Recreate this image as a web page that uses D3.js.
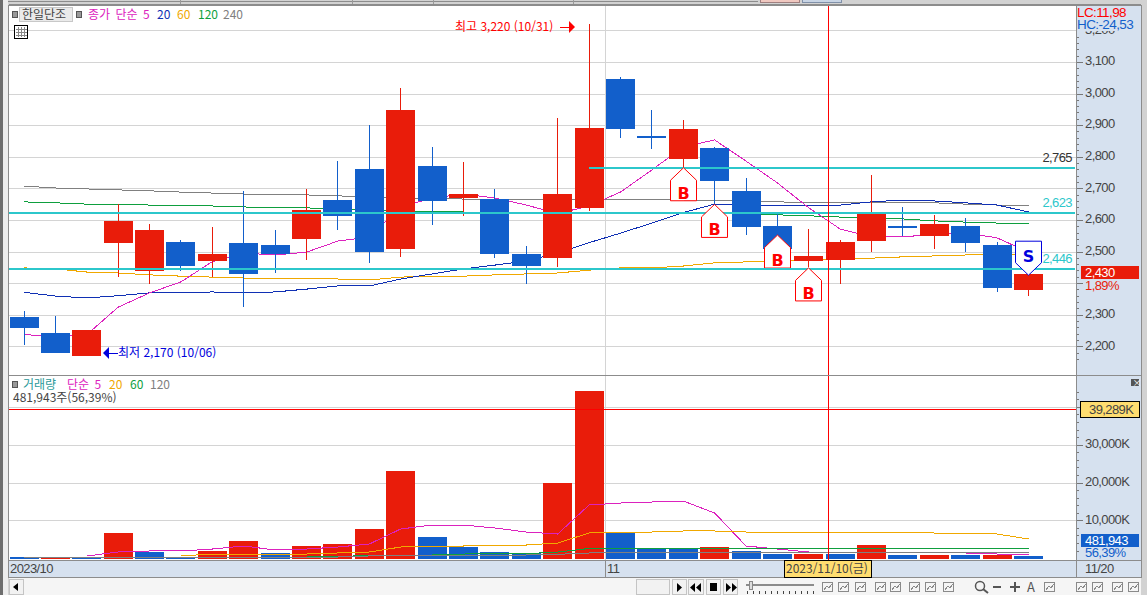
<!DOCTYPE html>
<html lang="ko"><head><meta charset="utf-8">
<script src="https://cdn.jsdelivr.net/npm/d3@7"></script>
<style>html,body{margin:0;padding:0;background:#fff;overflow:hidden}svg{display:block}
text{font-family:"Noto Sans CJK KR","Liberation Sans",sans-serif;font-size:12px}
.num{font-family:"Liberation Sans",sans-serif;letter-spacing:-.6px}</style>
</head><body><svg id="c" width="1147" height="595"></svg>
<script>
// ---------- data ----------
const title = "한일단조";
const openP  = [2293,2242,2170,2527,2438,2530,2470,2527,2521,2540,2663,2761,2508,2771,2669,2665,2492,2479,2638,3046,2865,2793,2828,2692,2581,2470,2473,2533,2581,2549,2581,2521,2378];
const closeP = [2258,2179,2252,2597,2568,2454,2492,2429,2492,2631,2612,2498,2948,2660,2682,2492,2454,2682,2891,2888,2860,2888,2723,2578,2508,2486,2530,2623,2576,2587,2527,2384,2430];
const highP  = [2312,2296,2252,2650,2587,2536,2578,2692,2568,2698,2786,2900,3017,2831,2783,2698,2517,2922,3220,3052,2948,2916,2831,2733,2625,2571,2536,2742,2641,2615,2606,2530,2430];
const lowP   = [2204,2179,2170,2419,2397,2438,2419,2324,2432,2473,2568,2464,2483,2584,2612,2479,2397,2451,2628,2859,2824,2764,2650,2553,2490,2451,2397,2498,2549,2508,2498,2372,2359];
const ma5  = [2237,2231,2237,2324,2369,2404,2468,2495,2489,2498,2533,2546,2641,2669,2682,2669,2647,2620,2644,2688,2758,2831,2853,2786,2717,2638,2571,2546,2546,2555,2559,2543,2498];
const ma20 = [2371,2359,2353,2360,2369,2369,2372,2369,2372,2381,2391,2391,2413,2429,2445,2457,2470,2495,2528,2558,2590,2623,2650,2647,2644,2647,2647,2657,2663,2660,2654,2647,2625];
const ma60 = [2448,2445,2435,2432,2426,2422,2419,2416,2413,2413,2413,2410,2419,2422,2422,2426,2429,2432,2441,2448,2448,2454,2464,2467,2470,2473,2476,2479,2483,2486,2489,2492,2492];
const ma120= [2657,2654,2650,2650,2647,2644,2644,2641,2638,2638,2635,2631,2628,2628,2625,2625,2625,2625,2625,2625,2625,2625,2622,2619,2616,2613,2609,2606,2603,2597,2593,2590,2587];
const ma240= [2707,2701,2698,2695,2692,2688,2685,2682,2679,2679,2676,2673,2669,2669,2666,2664,2664,2663,2663,2663,2663,2663,2661,2660,2657,2655,2654,2654,2654,2654,2650,2647,2647];
const volume = [290,290,290,6640,1600,290,1880,4520,1350,3200,3730,7700,23000,5580,2930,1610,1350,19870,44200,6640,2670,2670,2930,1880,1090,1090,1090,3460,820,820,820,820,482];
const volUp  = [0,1,0,1,0,0,1,1,0,1,1,1,1,0,0,0,0,1,1,0,0,0,1,0,0,1,0,1,0,1,0,1,0];
const vma5  = [null,null,555,1610,1880,1880,2400,3200,2140,2400,2930,3730,7700,8750,8750,7960,6900,6370,14040,14570,14840,15100,11930,3200,2400,1610,1480,1480,1480,1480,1350,1080,820];
const vma20 = [null,null,null,null,null,740,900,1000,1080,1080,1350,1610,2930,3200,3200,3460,3460,3990,6640,6900,6900,7170,7170,6900,6900,6900,6900,6900,6900,6640,6640,6370,5050];
const vma60 = [290,290,290,290,290,290,290,290,290,290,420,690,820,820,1080,1160,1160,1610,2540,2540,2540,2540,2540,2540,2540,2540,2540,2540,2540,2540,2540,2540,2540];
const vma120= [290,290,290,290,290,290,290,290,290,290,290,560,740,820,820,820,820,1000,1350,1480,1480,1480,1480,1480,1480,1480,1480,1480,1480,1480,1480,1480,1480];
const priceTicks = [2200,2300,2400,2500,2600,2700,2800,2900,3000,3100,3200];
const priceMinor = [2160,2180,2220,2240,2260,2280,2320,2340,2360,2380,2420,2440,2460,2480,2520,2540,2560,2580,2620,2640,2660,2680,2720,2740,2760,2780,2820,2840,2860,2880,2920,2940,2960,2980,3020,3040,3060,3080,3120,3140,3160,3180];
const volTicks = [10000,20000,30000,40000];
const volMinor = [2000,4000,6000,8000,12000,14000,16000,18000,22000,24000,26000,28000,32000,34000,36000,38000,42000,44000];
const levelPrices = [2765,2623,2446];
const levelLabels = ["2,765","2,623","2,446"];
const buyIdx = [21,22,24,25];
const buyPrice = [2765,2649,2552,2448];
const sellIdx = [32];
const sellPrice = [2425];
const crosshairVol = 39289;
const legendMain = ["종가 단순 5","20","60","120","240"];
const legendVol = ["거래량","단순 5","20","60","120"];
// ---------- colours ----------
const RED="#E91C0A",BLUE="#125FCB",TEAL="#2CC7CB",GRID="#D4D4D4",PANEL="#D6E1EF",INK="#444";
const C5="#DC22BE",C20="#1030B4",C60="#F0A800",C120="#0E9F3E",C240="#808080";

const svg=d3.select("#c");
const L=9,R=1076,T=5,PB=375,VB=558.1,VE=560;
const x=d3.scaleBand().domain(d3.range(openP.length)).range([8.324,1044.26]).paddingInner(0.07).paddingOuter(0.035);
const cx=i=>Math.floor(x(i)+x.bandwidth()/2);
const y=d3.scaleLinear().domain([2200,3200]).range([346.3,30.3]);
const yv=d3.scaleLinear().domain([0,40000]).range([VB,406.9]);

// frame
svg.append("rect").attr("width",1147).attr("height",595).attr("fill","#D2D2D2");
svg.append("rect").attr("x",0).attr("width",3).attr("height",595).attr("fill","#6E6E6E");
svg.append("rect").attr("x",3).attr("width",5).attr("height",595).attr("fill","#EDEDED");
svg.append("rect").attr("x",L).attr("y",T).attr("width",R-L).attr("height",VE-T).attr("fill","#fff");
svg.append("rect").attr("x",R).attr("y",T).attr("width",1141-R).attr("height",578-T).attr("fill",PANEL);
svg.append("rect").attr("x",L).attr("y",VE+1).attr("width",R-L).attr("height",17).attr("fill",PANEL);
const crisp=s=>s.attr("shape-rendering","crispEdges");
const hl=(x1,x2,yy,c,w=1)=>crisp(svg.append("line")).attr("x1",x1).attr("x2",x2).attr("y1",yy).attr("y2",yy).attr("stroke",c).attr("stroke-width",w);
const vl=(xx,y1,y2,c,w=1)=>crisp(svg.append("line")).attr("x1",xx).attr("x2",xx).attr("y1",y1).attr("y2",y2).attr("stroke",c).attr("stroke-width",w);
const txt=(s,xx,yy,c,o={})=>svg.append("text").attr("x",xx).attr("y",yy).attr("fill",c).attr("text-anchor",o.a||"start").attr("class",o.k||null).style("font-size",(o.s||12)+"px").style("word-spacing",(o.w||0)+"px").text(s);

// top strip
hl(8,758,1.5,"#8C8C8C");[180,352,433,573].forEach(v=>vl(v+.5,0,5,"#9A9A9A"));
crisp(svg.append("rect")).attr("x",760.5).attr("y",-1).attr("width",39).attr("height",3).attr("fill","#F0C8C0").attr("stroke","#A08080");
crisp(svg.append("rect")).attr("x",802.5).attr("y",-1).attr("width",39).attr("height",3).attr("fill","#C8D4E4").attr("stroke","#8090A8");

// grid
priceTicks.forEach(t=>hl(L,R,Math.round(y(t))+.5,GRID));
volTicks.forEach(t=>hl(L,R,Math.round(yv(t))+.5,GRID));
vl(605.5,T,578,GRID);

// price MA lines
const line=(sc)=>d3.line().defined(d=>d!=null).x((d,i)=>x(i)+x.bandwidth()/2).y(d=>sc(d));
const plotLine=(arr,sc,c)=>crisp(svg.append("path")).attr("d",line(sc)(arr)).attr("fill","none").attr("stroke",c).attr("stroke-width",1);
plotLine(ma240,y,C240);plotLine(ma120,y,C120);plotLine(ma60,y,C60);plotLine(ma20,y,C20);plotLine(ma5,y,C5);

// candles
const idx=d3.range(openP.length);
const col=i=>closeP[i]>=openP[i]?RED:BLUE;
crisp(svg.append("g").selectAll("line").data(idx).join("line"))
 .attr("x1",i=>cx(i)+.5).attr("x2",i=>cx(i)+.5).attr("y1",i=>y(highP[i])).attr("y2",i=>y(lowP[i])).attr("stroke",col);
crisp(svg.append("g").selectAll("rect").data(idx).join("rect"))
 .attr("x",i=>cx(i)-14).attr("width",29)
 .attr("y",i=>y(Math.max(openP[i],closeP[i])))
 .attr("height",i=>Math.max(2,Math.abs(y(openP[i])-y(closeP[i]))))
 .attr("fill",col);

// level lines
levelPrices.forEach((p,i)=>hl(i===0?cx(18):L,R-1,y(p),TEAL,2));
txt(levelLabels[0],1072,162,"#333",{a:"end",k:"num",s:13});
txt(levelLabels[1],1072,207,TEAL,{a:"end",k:"num",s:13});
txt(levelLabels[2],1072,263,TEAL,{a:"end",k:"num",s:13});

// buy / sell flags
const W=13;
buyIdx.forEach((k,j)=>{const X=cx(k)+.5,A=y(buyPrice[j]);
 svg.append("path").attr("d",`M${X},${A}L${X+W},${A+12.5}V${A+33}H${X-W}V${A+12.5}Z`).attr("fill","#fff").attr("stroke","#F00").attr("stroke-width",1);
 svg.append("text").attr("x",X).attr("y",A+31).attr("text-anchor","middle").attr("fill","#F00").style("font-size","16px").style("font-weight","700").style("font-family","'DejaVu Sans'").text("B");
});
// bottom edge of the third flag sits under the level line
hl(cx(24)-13,cx(24)+14,y(levelPrices[2]),TEAL,2);
sellIdx.forEach((k,j)=>{const X=cx(k)+.5,A=y(sellPrice[j]);
 svg.append("path").attr("d",`M${X},${A}L${X+W},${A-12.5}V${A-34}H${X-W}V${A-12.5}Z`).attr("fill","#fff").attr("stroke","#00D").attr("stroke-width",1);
 svg.append("text").attr("x",X).attr("y",A-13).attr("text-anchor","middle").attr("fill","#00D").style("font-size","16px").style("font-weight","700").style("font-family","'DejaVu Sans'").text("S");
});

// hi / lo notes
txt("최고 3,220 (10/31)",455,31,"#F00",{s:12});
hl(560,572,27,"#F00");svg.append("path").attr("d","M569,21L575,27L569,33Z").attr("fill","#F00");
txt("최저 2,170 (10/06)",118,357,"#00D",{s:12});
hl(106,118,353,"#00D");svg.append("path").attr("d","M109,347L103,353L109,359Z").attr("fill","#00D");

// volume
crisp(svg.append("g").selectAll("rect").data(idx).join("rect"))
 .attr("x",i=>cx(i)-14).attr("width",29).attr("y",i=>yv(volume[i])).attr("height",i=>559-yv(volume[i])).attr("fill",i=>volUp[i]?RED:BLUE);
plotLine(vma5,yv,C5);plotLine(vma20,yv,C60);plotLine(vma60,yv,C120);plotLine(vma120,yv,C240);

// crosshair
vl(828.5,T,561,"#F00");
hl(L,R,yv(crosshairVol),"#F00");

// pane borders
hl(L,1141,375.5,"#8C8C8C");hl(L,1141,560.5,"#8C8C8C");hl(L,1141,577.5,"#8C8C8C");hl(L,1141,5,"#8C8C8C",1.5);
vl(8.5,T,578,"#8C8C8C");vl(1076.5,T,578,"#8C8C8C");vl(1141.5,T,578,"#8C8C8C");vl(605.5,561,578,"#8C8C8C");

// axes
const styleAxis=g=>{g.select(".domain").remove();g.selectAll("line").attr("stroke","#777").attr("shape-rendering","crispEdges");
 g.selectAll("text").attr("fill",INK).attr("class","num").attr("transform","translate(0,-1.3)").style("font-size","13px");};
svg.append("g").attr("transform",`translate(${R+1},0)`).call(d3.axisRight(y).tickValues(priceMinor).tickSize(2).tickFormat("")).call(styleAxis);
svg.append("g").attr("transform",`translate(${R+1},0)`).call(d3.axisRight(y).tickValues(priceTicks).tickSize(6).tickPadding(2).tickFormat(d=>d===2400?"":d3.format(",")(d))).call(styleAxis);
svg.append("g").attr("transform",`translate(${R+1},0)`).call(d3.axisRight(yv).tickValues(volMinor.filter(v=>yv(v)>380)).tickSize(2).tickFormat("")).call(styleAxis);
svg.append("g").attr("transform",`translate(${R+1},0)`).call(d3.axisRight(yv).tickValues(volTicks).tickSize(6).tickPadding(2).tickFormat(d=>d3.format(",")(d)+"K")).call(styleAxis);

// top-right stats
svg.append("rect").attr("x",R+1).attr("y",T+1).attr("width",64).attr("height",25).attr("fill",PANEL);
txt("LC:11,98",1077,17,"#F00",{k:"num",s:13.5});
txt("HC:-24,53",1077,29,BLUE,{k:"num",s:13.5});

// value tags
crisp(svg.append("rect")).attr("x",1081).attr("y",266).attr("width",58).attr("height",13).attr("fill",RED);
txt("2,430",1085,277,"#fff",{k:"num",s:13});
txt("1,89%",1085,290,RED,{k:"num",s:13});
crisp(svg.append("rect")).attr("x",1080.5).attr("y",401.5).attr("width",59).attr("height",16).attr("fill","#FFDD70").attr("stroke","#000");
txt("39,289K",1089,414,INK,{k:"num",s:13});
crisp(svg.append("rect")).attr("x",1081).attr("y",534).attr("width",58).attr("height",13).attr("fill",BLUE);
txt("481,943",1085,545,"#fff",{k:"num",s:13});
txt("56,39%",1085,557,BLUE,{k:"num",s:13});

// legends
const sq=(a,b)=>crisp(svg.append("rect")).attr("x",a).attr("y",b).attr("width",5).attr("height",6).attr("fill","#999").attr("stroke","#555");
sq(12.5,11.5);sq(76.5,11.5);
crisp(svg.append("rect")).attr("x",19.5).attr("y",7.5).attr("width",53).attr("height",14).attr("fill","#EAEAEA").attr("stroke","#C8C8C8");
txt(title,22,19,"#444",{s:12});
[[legendMain[0],88,C5],[legendMain[1],157,C20],[legendMain[2],177,C60],[legendMain[3],198,C120],[legendMain[4],223,C240]].forEach(d=>txt(d[0],d[1],19,d[2],{s:12,w:2}));
crisp(svg.append("rect")).attr("x",14.5).attr("y",25.5).attr("width",13).attr("height",13).attr("fill","#fff").attr("stroke","#000");
[18,21,24].forEach(v=>vl(v+.5,27,37,"#888"));[29,32,35].forEach(v=>hl(16,27,v+.5,"#888"));
sq(12.5,381.5);
[[legendVol[0],23,"#2A9A9A"],[legendVol[1],67,C5],[legendVol[2],109,C60],[legendVol[3],130,C120],[legendVol[4],150,C240]].forEach(d=>txt(d[0],d[1],389,d[2],{s:12,w:2}));
txt("481,943주(56,39%)",13,402,"#444",{s:12});
crisp(svg.append("rect")).attr("x",1131).attr("y",379).attr("width",8).attr("height",7).attr("fill","#555");
txt("×",1132.5,386,"#fff",{s:9});

// date strip
txt("2023/10",10,573,INK,{k:"num",s:13});
txt("11",607,573,INK,{k:"num",s:13});
txt("11/20",1085,573,INK,{k:"num",s:13});
crisp(svg.append("rect")).attr("x",784.5).attr("y",560.5).attr("width",87).attr("height",17).attr("fill","#FFDD70").attr("stroke","#000");
txt("2023/11/10(금)",786,573,"#444",{s:12});

// toolbar
svg.append("rect").attr("x",9).attr("y",578).attr("width",1132).attr("height",17).attr("fill","#F5F5F5");
const btn=(a,w)=>crisp(svg.append("rect")).attr("x",a+.5).attr("y",579.5).attr("width",w).attr("height",15).attr("fill","#F2F2F2").attr("stroke","#C4C4C4");
btn(9,14);svg.append("path").attr("d","M18,583L13,587L18,591Z").attr("fill","#000");
btn(636,33);btn(672,14);btn(688,15);btn(706,14);btn(723,14);
svg.append("path").attr("d","M677,583L682,587.5L677,592Z").attr("fill","#000");
svg.append("path").attr("d","M695,583L690,587.5L695,592ZM701,583L696,587.5L701,592Z").attr("fill","#000");
svg.append("rect").attr("x",710).attr("y",583).attr("width",7).attr("height",8).attr("fill","#000");
svg.append("path").attr("d","M726,583L731,587.5L726,592ZM732,583L737,587.5L732,592Z").attr("fill","#000");
hl(746,814,584.5,"#8C8C8C",2);
crisp(svg.append("rect")).attr("x",749).attr("y",581).attr("width",3).attr("height",8).attr("fill","#ddd").attr("stroke","#888");
d3.range(747,815,6).forEach(v=>vl(v+.5,591,594,"#444"));
const ic=[822,838,855,875,890,909,925,943,1044,1076,1092,1112,1128];
ic.forEach(a=>{
 crisp(svg.append("path")).attr("d",`M${a+.5},${582.5}h10v9h-10ZM${a+2},${590}l3,-4l2,2l3,-4`).attr("fill","none").attr("stroke","#8A8A8A");});
svg.append("circle").attr("cx",980).attr("cy",586).attr("r",4.5).attr("fill","none").attr("stroke","#555").attr("stroke-width",1.5);
svg.append("path").attr("d","M983,589L988,593").attr("stroke","#555").attr("stroke-width",2);
hl(993,1001,587,"#555",2);hl(1010,1020,587,"#555",2);vl(1015,582,592,"#555",2);
txt("A",1027,592,"#555",{s:13});
</script></body></html>
